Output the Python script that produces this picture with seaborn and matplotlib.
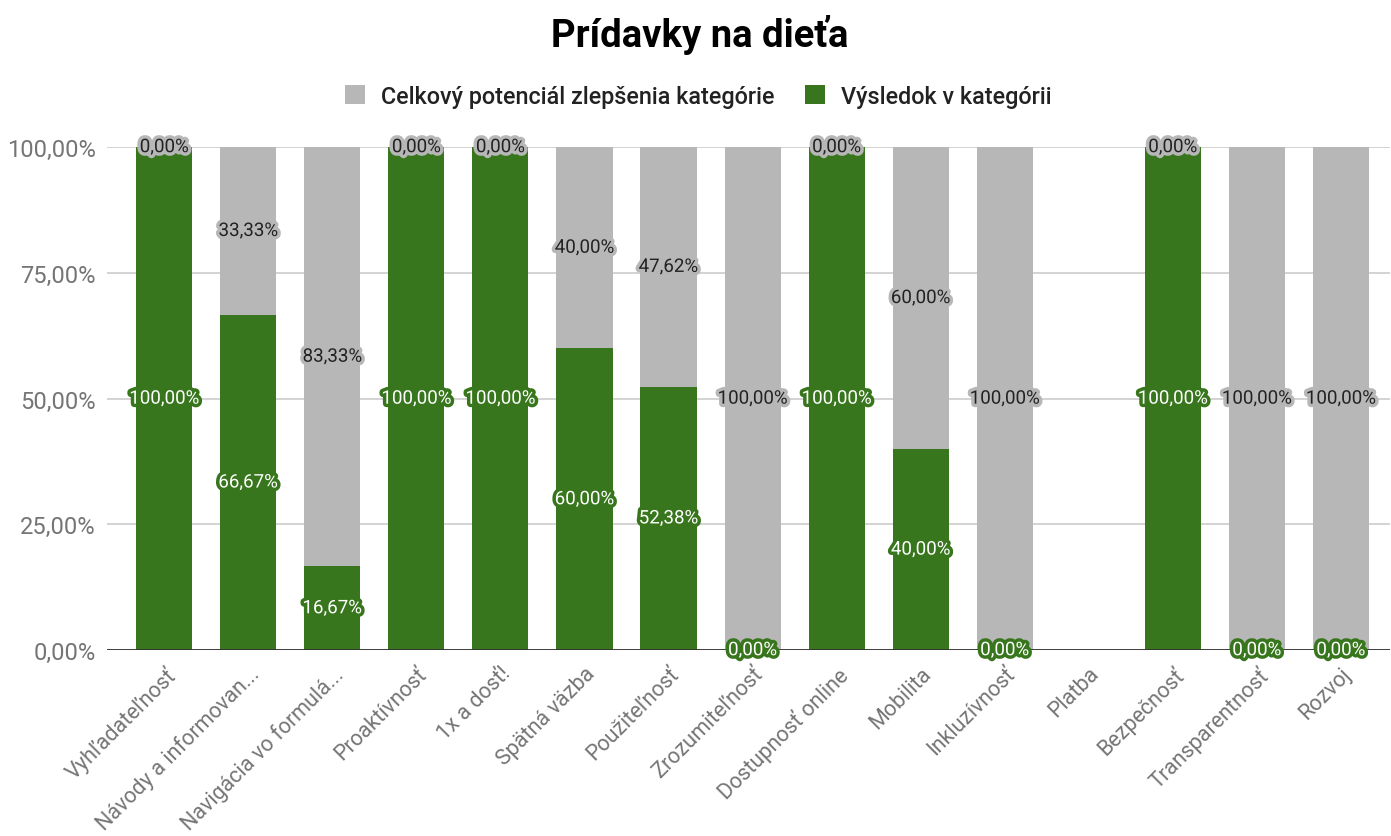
import matplotlib
matplotlib.use("Agg")
import matplotlib.pyplot as plt
import matplotlib.patheffects as pe
from matplotlib.patches import Patch
import numpy as np
import pandas as pd
import seaborn as sns

categories = [
    "Vyhľadateľnosť", "Návody a informovan...", "Navigácia vo formulá...",
    "Proaktívnosť", "1x a dosť!", "Spätná väzba", "Použiteľnosť",
    "Zrozumiteľnosť", "Dostupnosť online", "Mobilita", "Inkluzívnosť",
    "Platba", "Bezpečnosť", "Transparentnosť", "Rozvoj",
]
vysledok = [100.0, 66.67, 16.67, 100.0, 100.0, 60.0, 52.38, 0.0, 100.0, 40.0,
            0.0, np.nan, 100.0, 0.0, 0.0]
potencial = [0.0, 33.33, 83.33, 0.0, 0.0, 40.0, 47.62, 100.0, 0.0, 60.0,
             100.0, np.nan, 0.0, 100.0, 100.0]
y_ticks = [0, 25, 50, 75, 100]

GREEN = "#38761d"
GRAY = "#b7b7b7"
TICK = "#757575"

df = pd.DataFrame({"kategoria": categories, "vysledok": vysledok, "potencial": potencial})
df["spolu"] = df["vysledok"] + df["potencial"]

sns.set_theme(style="white")
plt.rcParams["font.family"] = ["Roboto", "DejaVu Sans"]

fig = plt.figure(figsize=(13.91, 8.37), dpi=100)
ax = fig.add_axes([0.077, 0.222, 0.922, 0.601])

# stacked bars: the full height in gray, the result drawn over it in green
sns.barplot(data=df, x="kategoria", y="spolu", order=categories, color=GRAY,
            saturation=1, width=0.667, errorbar=None, linewidth=0, ax=ax, zorder=2)
sns.barplot(data=df, x="kategoria", y="vysledok", order=categories, color=GREEN,
            saturation=1, width=0.667, errorbar=None, linewidth=0, ax=ax, zorder=3)

ax.set_ylim(0, 100)
ax.set_xlim(-0.68, 14.58)
ax.set_yticks(y_ticks)
ax.set_yticklabels([f"{v:.2f}".replace(".", ",") + "%" for v in y_ticks],
                   fontsize=17, color=TICK)
ax.yaxis.grid(True, color="#cccccc", linewidth=1.2, zorder=0)
ax.set_axisbelow(True)
ax.axhline(0, color="#333333", linewidth=1.3, zorder=4)
for s in ax.spines.values():
    s.set_visible(False)
ax.tick_params(axis="y", length=0, pad=8)
ax.tick_params(axis="x", length=0, pad=9)
ax.set_xlabel("")
ax.set_ylabel("")
ax.set_xticks(range(len(categories)))
ax.set_xticklabels(categories, rotation=45, ha="right", rotation_mode="anchor",
                   fontsize=15.5, color=TICK)


def fmt(v):
    return f"{v:.2f}".replace(".", ",") + "%"


# value labels centred in each segment
for i, (r, p) in enumerate(zip(vysledok, potencial)):
    if np.isnan(r):
        continue
    ax.text(i, r / 2, fmt(r), ha="center", va="center", fontsize=13.5,
            color="white", zorder=6, clip_on=False,
            path_effects=[pe.withStroke(linewidth=5, foreground=GREEN)])
    ax.text(i, r + p / 2, fmt(p), ha="center", va="center", fontsize=13.5,
            color="#222222", zorder=5, clip_on=False,
            path_effects=[pe.withStroke(linewidth=5, foreground=GRAY)])

fig.text(0.503, 0.958, "Prídavky na dieťa", ha="center", va="center",
         fontsize=27.5, fontweight="bold", color="#000000")

handles = [Patch(facecolor=GRAY, edgecolor="none"),
           Patch(facecolor=GREEN, edgecolor="none")]
fig.legend(handles, ["Celkový potenciál zlepšenia kategórie", "Výsledok v kategórii"],
           loc="center", bbox_to_anchor=(0.502, 0.884), ncol=2, frameon=False,
           handlelength=0.85, handleheight=0.85, handletextpad=0.7, columnspacing=1.3,
           prop={"size": 16.8, "weight": "medium"}, labelcolor="#222222")

fig.savefig("out.png", dpi=100)
